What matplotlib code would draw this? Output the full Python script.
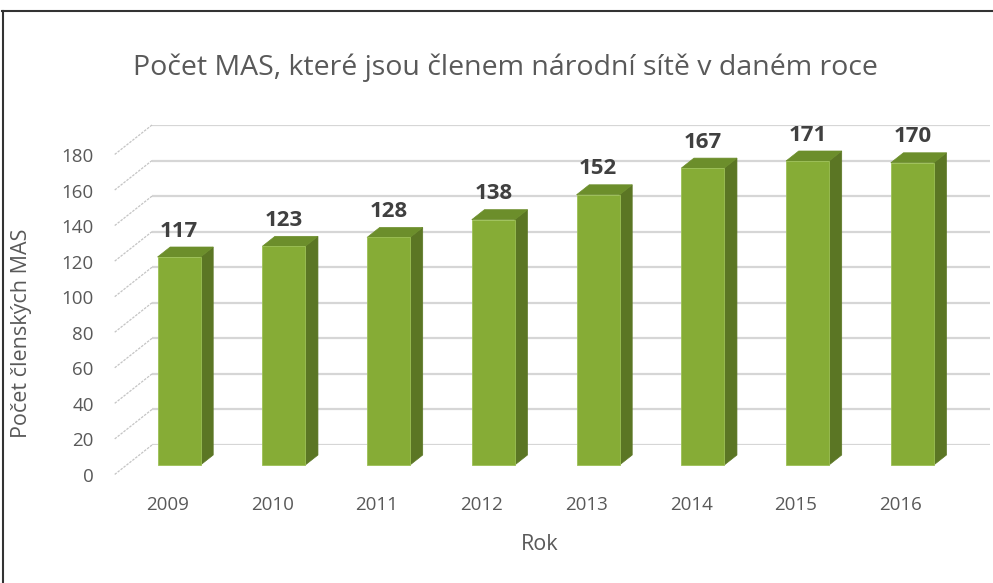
import matplotlib.pyplot as plt
from matplotlib.patches import Polygon
from matplotlib.lines import Line2D
from matplotlib.transforms import ScaledTranslation

plt.rcParams['font.family'] = ['Open Sans', 'DejaVu Sans']

years = ['2009', '2010', '2011', '2012', '2013', '2014', '2015', '2016']
counts = [117, 123, 128, 138, 152, 167, 171, 170]
yticks = [0, 20, 40, 60, 80, 100, 120, 140, 160, 180]

title = 'Počet MAS, které jsou členem národní sítě v daném roce'
xlabel = 'Rok'
ylabel = 'Počet členských MAS'

W, H, DPI = 993, 583, 100
fig = plt.figure(figsize=(W / DPI, H / DPI), dpi=DPI)
# axes = back wall of the 3d box
ax = fig.add_axes([152 / W, (H - 445) / H, (990 - 152) / W, 320 / H])
ax.set_xlim(-0.5, 7.5)
ax.set_ylim(0, 180)
for s in ax.spines.values():
    s.set_visible(False)
ax.set_facecolor('none')

# depth vector (back -> front) in data units
px_x = 838 / 8.0          # px per category
px_y = 320 / 180.0        # px per unit
DX = -38 / px_x
DY = -30 / px_y
d1, d2 = 1 / 3, 2 / 3     # bar depth span
w = 43 / px_x

front_c = '#86AC36'
side_c = '#5B7624'
top_c = '#6C8E2B'
grid_c = '#D6D6D6'
txt_c = '#595959'

# back wall gridlines + left floor diagonals
for t in yticks:
    ax.add_line(Line2D([-0.5, 7.5], [t, t], color=grid_c, lw=1.6, zorder=1))
    ax.add_line(Line2D([-0.5, -0.5 + DX], [t, t + DY], color='#C4C4C4',
                       lw=0.9, ls=(0, (2, 1)), clip_on=False, zorder=1))

xs = list(range(len(years)))
for i, v in zip(xs, counts):
    # side face
    xr2, xr1 = i + w / 2 + d2 * DX, i + w / 2 + d1 * DX
    ax.add_patch(Polygon([(xr2, d2 * DY), (xr1, d1 * DY), (xr1, v + d1 * DY),
                          (xr2, v + d2 * DY)], closed=True, fc=side_c,
                         ec=side_c, lw=0.5, clip_on=False, zorder=3))
    # top face
    xl2, xl1 = i - w / 2 + d2 * DX, i - w / 2 + d1 * DX
    ax.add_patch(Polygon([(xl2, v + d2 * DY), (xr2, v + d2 * DY),
                          (xr1, v + d1 * DY), (xl1, v + d1 * DY)], closed=True,
                         fc=top_c, ec=top_c, lw=0.5, clip_on=False, zorder=3))

bars = ax.bar([x + d2 * DX for x in xs], counts, bottom=d2 * DY, width=w,
              color=front_c, edgecolor='#9CC055', linewidth=0.6, zorder=4)
for b in bars:
    b.set_clip_on(False)

for i, v in zip(xs, counts):
    ax.annotate(str(v), (i + d2 * DX, v + d2 * DY), xytext=(0, 11),
                textcoords='offset points', ha='center', va='bottom',
                fontsize=16, fontweight='bold', color='#404040',
                annotation_clip=False, zorder=5)

# ticks
ax.set_yticks(yticks)
ax.set_yticklabels([str(t) for t in yticks], fontsize=13.5, color=txt_c)
ax.set_xticks(xs)
ax.set_xticklabels(years, fontsize=13.5, color=txt_c)
ax.tick_params(axis='y', length=0, pad=42)
ax.tick_params(axis='x', length=0, pad=37)
for lbl in ax.get_yticklabels():
    lbl.set_transform(lbl.get_transform() +
                      ScaledTranslation(0, -30 / DPI, fig.dpi_scale_trans))
for lbl in ax.get_xticklabels():
    lbl.set_transform(lbl.get_transform() +
                      ScaledTranslation(-37 / DPI, 0, fig.dpi_scale_trans))

fig.text(505 / W, 1 - 68 / H, title, ha='center', va='center',
         fontsize=20.5, color=txt_c)
fig.text(540 / W, 1 - 545 / H, xlabel, ha='center', va='center',
         fontsize=15.5, color=txt_c)
fig.text(22 / W, 1 - 333 / H, ylabel, ha='center', va='center',
         rotation=90, fontsize=15.5, color=txt_c)

# frame of the screenshot (top and left only)
fig.add_artist(Line2D([2 / W, 1], [1 - 10.5 / H, 1 - 10.5 / H],
                      transform=fig.transFigure, color='#333333', lw=1.5))
fig.add_artist(Line2D([2.5 / W, 2.5 / W], [0, 1 - 10.5 / H],
                      transform=fig.transFigure, color='#333333', lw=1.5))

fig.savefig('out.png', dpi=DPI, facecolor='white')
